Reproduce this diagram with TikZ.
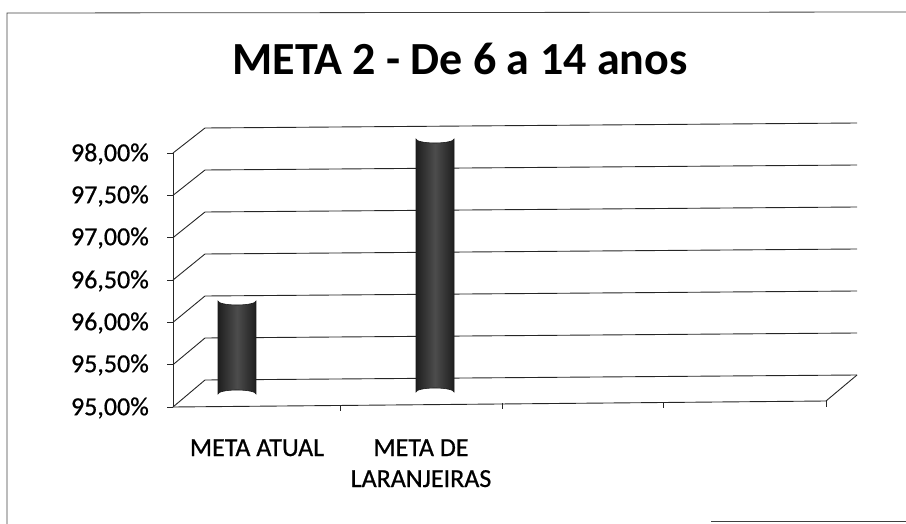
\documentclass[tikz,border=0pt]{standalone}
\usepackage{fontspec}
\setmainfont{Carlito}
\newfontfamily\chartfont[FakeBold=0.7]{Carlito}

\begin{document}
\begin{tikzpicture}[x=1pt, y=-1pt,
    grid/.style={line width=0.9pt, black!85},
    ylabel/.style={anchor=east, inner sep=0pt, font=\fontsize{26}{31}\chartfont},
    xlabel/.style={anchor=base, inner sep=0pt, align=center, font=\fontsize{26}{31}\chartfont},
    bar/.style={left color=black!88, right color=black!88, middle color=black!70, draw=black!90, line width=0.6pt}]
    \useasboundingbox (0,0) rectangle (906,524);

    % Frame of the scanned page
    \draw[line width=0.8pt, black!75] (7,524) -- (7,13) -- (906,12);
    \draw[line width=0.8pt, black!75] (711,521) -- (906,521);

    % Title
    \node[anchor=base, inner sep=0pt, font=\fontsize{46}{55}\selectfont\bfseries] (title) at (460,75) {META 2 - De 6 a 14 anos};

    % Back wall gridlines and side wall
    \foreach \k in {0,...,6} {
        \draw[grid] (173,407-42.33*\k) -- (205,380-42*\k) -- (857,375-42*\k);
    }
    \draw[grid] (173,407) -- (173,153);
    \draw[grid] (173,407) -- (826,401) -- (857,375);

    % Ticks
    \foreach \k in {0,...,6} {
        \draw[grid] (167,407-42.33*\k) -- (173,407-42.33*\k);
    }
    \foreach \x/\y in {340/405, 502/403, 663/402, 826/401} {
        \draw[grid] (\x,\y) -- (\x,\y+6);
    }

    % Axis labels
    \node[ylabel] (y98) at (149,154) {98,00\%};
    \node[ylabel] (y975) at (149,196) {97,50\%};
    \node[ylabel] (y97) at (149,238) {97,00\%};
    \node[ylabel] (y965) at (149,281) {96,50\%};
    \node[ylabel] (y96) at (149,323) {96,00\%};
    \node[ylabel] (y955) at (149,365) {95,50\%};
    \node[ylabel] (y95) at (149,408) {95,00\%};

    % Cylinders
    \path[bar] (218,301) -- (218,394) arc (180:360:19 and 4) -- (256,301) arc (0:180:19 and 4) -- cycle;
    \path[bar] (416,139) -- (416,392) arc (180:360:19 and 4) -- (454,139) arc (0:180:19 and 4) -- cycle;

    % Category labels
    \node[xlabel] (atual) at (257,456) {META ATUAL};
    \node[xlabel] (laranjeiras) at (421,487) {META DE\\LARANJEIRAS};
\end{tikzpicture}
\end{document}
